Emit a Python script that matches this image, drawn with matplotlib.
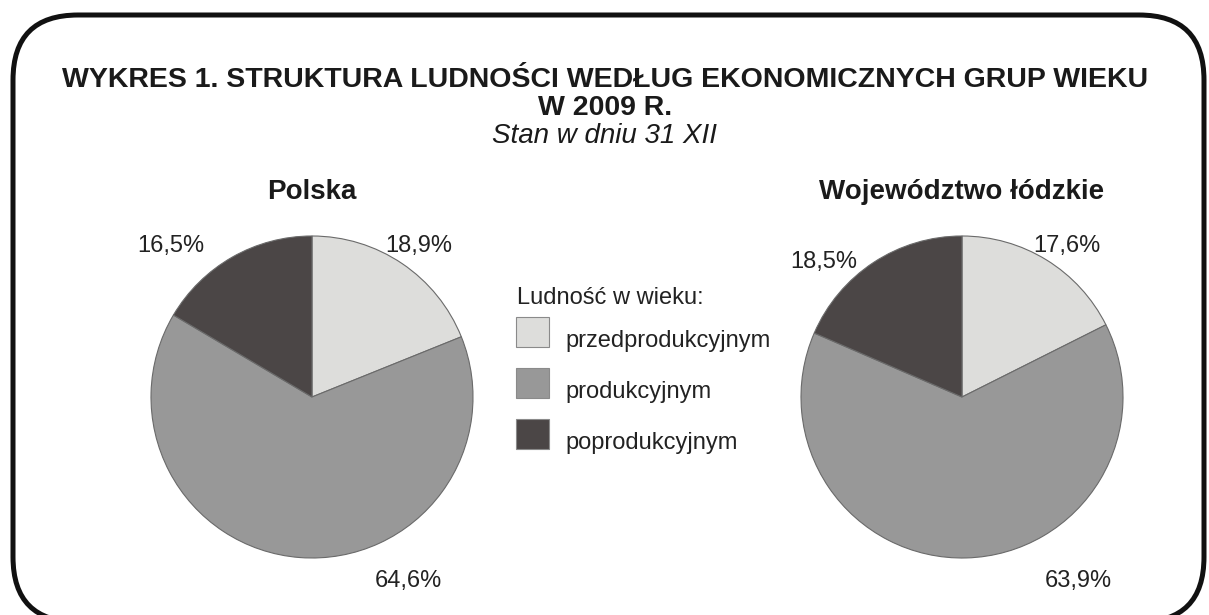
import matplotlib.pyplot as plt
from matplotlib.patches import FancyBboxPatch, Rectangle

plt.rcParams['font.family'] = ['Liberation Sans', 'DejaVu Sans']

# data
groups = ['przedprodukcyjnym', 'produkcyjnym', 'poprodukcyjnym']
polska = [18.9, 64.6, 16.5]
lodzkie = [17.6, 63.9, 18.5]
pie_titles = ['Polska', 'Województwo łódzkie']
colors = ['#dddddb', '#989898', '#4b4646']

# label positions in pie units (radius = 1)
polska_lab = [(0.665, 0.94), (0.60, -1.14), (-0.876, 0.94)]
lodzkie_lab = [(0.65, 0.94), (0.72, -1.14), (-0.86, 0.84)]

W, H = 1209, 615
fig = plt.figure(figsize=(W / 100, H / 100), dpi=100)

# background axes in pixel units
bg = fig.add_axes([0, 0, 1, 1])
bg.set_xlim(0, W)
bg.set_ylim(0, H)
bg.axis('off')


def Y(y):
    # image row (from top) -> axes y
    return H - y


rad = 65
left, right, top, bottom = 13, 1204, 15, 622
bg.add_patch(FancyBboxPatch((left + rad, Y(bottom) + rad),
                            right - left - 2 * rad, bottom - top - 2 * rad,
                            boxstyle=f'round,pad={rad}', fc='none', ec='#111111',
                            lw=3.6, clip_on=False))

bg.text(605, Y(80), 'WYKRES 1. STRUKTURA LUDNOŚCI WEDŁUG EKONOMICZNYCH GRUP WIEKU',
        ha='center', va='center', fontsize=20.5, fontweight='bold', color='#1a1a1a')
bg.text(605, Y(108), 'W 2009 R.', ha='center', va='center', fontsize=20.5,
        fontweight='bold', color='#1a1a1a')
bg.text(605, Y(136), 'Stan w dniu 31 XII', ha='center', va='center', fontsize=20,
        style='italic', color='#1a1a1a')

# legend
bg.text(517, Y(298), 'Ludność w wieku:', ha='left', va='center', fontsize=17, color='#222222')
for i, (g, c) in enumerate(zip(groups, colors)):
    y0 = 317 + i * 51
    bg.add_patch(Rectangle((516, Y(y0 + 30)), 33, 30, fc=c, ec='#8a8a8a', lw=0.8))
    bg.text(565, Y(y0 + 24), g, ha='left', va='center', fontsize=17, color='#222222')


def draw_pie(cx, values, labels_xy, title):
    r = 161
    ax = fig.add_axes([(cx - r) / W, (H - 397 - r) / H, 2 * r / W, 2 * r / H])
    ax.pie(values, colors=colors, startangle=90, counterclock=False,
           wedgeprops=dict(edgecolor='#6a6a6a', linewidth=0.8))
    ax.set_xlim(-1, 1)
    ax.set_ylim(-1, 1)
    ax.set_aspect('equal')
    for v, (x, y) in zip(values, labels_xy):
        ax.text(x, y, f'{v:.1f}%'.replace('.', ','), ha='center', va='center',
                fontsize=17, color='#222222')
    bg.text(cx, Y(192), title, ha='center', va='center', fontsize=20,
            fontweight='bold', color='#1a1a1a')


draw_pie(312, polska, polska_lab, pie_titles[0])
draw_pie(962, lodzkie, lodzkie_lab, pie_titles[1])

fig.savefig('out.png', dpi=100)
